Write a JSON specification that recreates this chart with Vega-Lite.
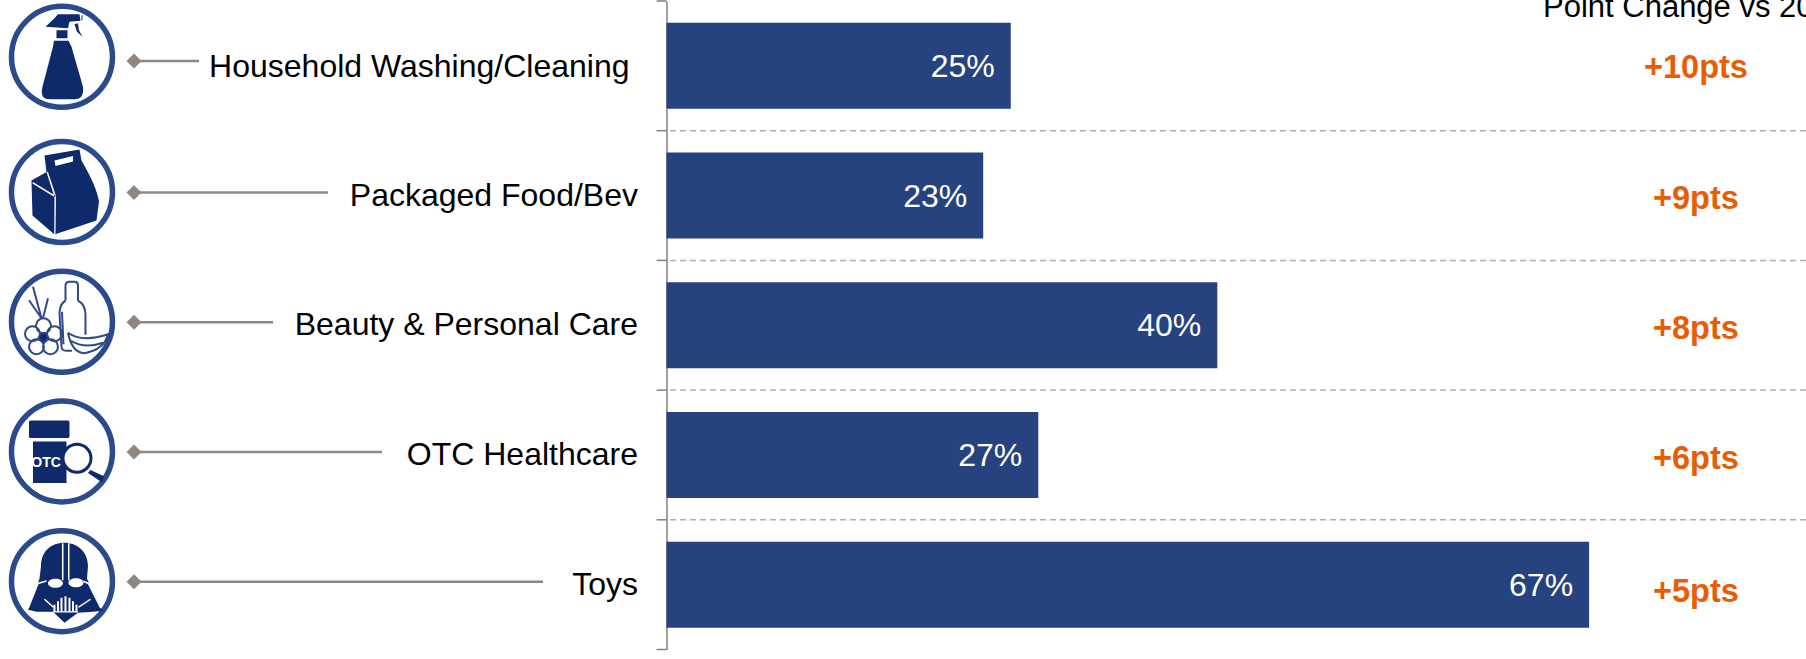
{
  "$schema": "https://vega.github.io/schema/vega-lite/v6.json",
  "width": 1139.5,
  "height": 648.5,
  "padding": {"left": 666.5, "top": 1, "right": 0, "bottom": 9.5},
  "autosize": {"type": "none"},
  "background": "white",
  "view": {"stroke": null},
  "config": {"font": "Liberation Sans"},
  "data": {
    "values": [
      {"category": "Household Washing/Cleaning", "share": 0.25, "change": "+10pts"},
      {"category": "Packaged Food/Bev", "share": 0.23, "change": "+9pts"},
      {"category": "Beauty & Personal Care", "share": 0.40, "change": "+8pts"},
      {"category": "OTC Healthcare", "share": 0.27, "change": "+6pts"},
      {"category": "Toys", "share": 0.67, "change": "+5pts"}
    ]
  },
  "encoding": {
    "y": {
      "field": "category",
      "type": "nominal",
      "sort": null,
      "title": null,
      "scale": {"paddingInner": 0.337, "paddingOuter": 0.1685},
      "axis": {
        "labels": false,
        "grid": false,
        "ticks": false,
        "domainColor": "#808080",
        "domainWidth": 1.5
      }
    }
  },
  "layer": [
    {
      "transform": [{"filter": "datum.category !== 'Toys'"}],
      "mark": {"type": "rule", "color": "#b0b0b0", "strokeWidth": 1.5, "strokeDash": [6, 4], "yOffset": {"expr": "21.85"}},
      "encoding": {
        "y": {"field": "category", "type": "nominal", "sort": null, "bandPosition": 1, "title": null}
      }
    },
    {
      "mark": {"type": "bar", "color": "#27437f"},
      "encoding": {
        "x": {
          "field": "share",
          "type": "quantitative",
          "axis": null,
          "scale": {"domain": [0, 0.8275], "nice": false, "zero": false}
        }
      }
    },
    {
      "mark": {"type": "rule", "color": "#808080", "strokeWidth": 1.5, "yOffset": {"expr": "64.85"}, "x2Offset": {"expr": "-10"}},
      "encoding": {
        "x": {"datum": 0.0001},
        "x2": {"datum": 0.0001}
      }
    },
    {
      "transform": [{"filter": "datum.category === 'Household Washing/Cleaning'"}],
      "mark": {"type": "rule", "color": "#808080", "strokeWidth": 1.5, "yOffset": {"expr": "-64.85"}, "x2Offset": {"expr": "-10"}},
      "encoding": {
        "x": {"datum": 0.0001},
        "x2": {"datum": 0.0001}
      }
    },
    {
      "mark": {"type": "text", "align": "right", "baseline": "alphabetic", "dx": -16, "yOffset": 11, "fontSize": 32, "color": "white"},
      "encoding": {
        "x": {"field": "share", "type": "quantitative"},
        "text": {"field": "share", "type": "quantitative", "format": ".0%"}
      }
    },
    {
      "mark": {
        "type": "text",
        "align": "center",
        "baseline": "alphabetic",
        "yOffset": {"expr": "{'Household Washing/Cleaning': 12, 'Packaged Food/Bev': 13, 'Beauty & Personal Care': 14, 'OTC Healthcare': 14.5, 'Toys': 17.5}[datum.category]"},
        "fontSize": 32.5,
        "fontWeight": "bold",
        "color": "#e85d04"
      },
      "encoding": {
        "x": {"datum": 0.7476},
        "text": {"field": "change"}
      }
    },
    {
      "transform": [{"filter": "datum.share === 0.25"}],
      "mark": {"type": "text", "align": "left", "baseline": "alphabetic", "yOffset": -48.85, "fontSize": 31, "color": "#000000"},
      "encoding": {
        "x": {"datum": 0.6365},
        "text": {"value": "Point Change vs 20"}
      }
    },
    {
      "mark": {
        "type": "text",
        "align": "right",
        "baseline": "alphabetic",
        "yOffset": {"expr": "datum.category === 'Household Washing/Cleaning' ? 11 : 10"},
        "fontSize": 32,
        "color": "#000000",
        "xOffset": {"expr": "datum.category === 'Household Washing/Cleaning' ? -8.5 : 0"}
      },
      "encoding": {
        "x": {"datum": -0.0207},
        "text": {"field": "category"}
      }
    },
    {
      "mark": {
        "type": "rule",
        "color": "#8f8780",
        "strokeWidth": 2.5,
        "yOffset": {"expr": "datum.category === 'Household Washing/Cleaning' ? -4.85 : -3"},
        "x2Offset": {"expr": "{'Household Washing/Cleaning': 65, 'Packaged Food/Bev': 194, 'Beauty & Personal Care': 139, 'OTC Healthcare': 248, 'Toys': 409}[datum.category]"}
      },
      "encoding": {
        "x": {"datum": -0.3867},
        "x2": {"datum": -0.3867}
      }
    },
    {
      "mark": {
        "type": "point",
        "shape": "diamond",
        "filled": true,
        "opacity": 1,
        "color": "#8f8780",
        "size": 225,
        "yOffset": {"expr": "datum.category === 'Household Washing/Cleaning' ? -4.85 : -3"}
      },
      "encoding": {"x": {"datum": -0.3867}}
    },
    {
      "mark": {
        "type": "point",
        "shape": "circle",
        "filled": false,
        "opacity": 1,
        "stroke": "#2a4a8c",
        "strokeWidth": 5.5,
        "size": 10201,
        "yOffset": {"expr": "datum.category === 'Household Washing/Cleaning' ? -9 : -3.5"}
      },
      "encoding": {"x": {"datum": -0.439}}
    },
    {
      "mark": {
        "type": "point",
        "filled": true,
        "opacity": 1,
        "fill": "#0e2a6b",
        "strokeWidth": 0,
        "size": 10000,
        "yOffset": {"expr": "datum.category === 'Household Washing/Cleaning' ? -9 : -3.5"}
      },
      "encoding": {
        "x": {"datum": -0.439},
        "shape": {
          "field": "category",
          "type": "nominal",
          "legend": null,
          "scale": {
            "domain": ["Household Washing/Cleaning", "Packaged Food/Bev", "Beauty & Personal Care", "OTC Healthcare", "Toys"],
            "range": [
              "M-.16,-.32 L.13,-.32 L.19,-.2 L.42,.6 Q.45,.85 .25,.85 L-.25,.85 Q-.45,.85 -.39,.6 L-.18,-.2 Z M-.11,-.53 H.11 V-.36 H-.11 Z M-.33,-.6 L-.15,-.77 L-.08,-.85 L.35,-.85 L.37,-.72 L.15,-.7 L.12,-.57 Z M.25,-.65 L.3,-.5 L.41,-.4 L.34,-.53 L.32,-.67 Z M.39,-.83 H.41 V-.73 H.39 Z",
              "M-.35,-.73 L.35,-.85 L.39,-.63 Q.7,-.1 .74,.2 L.69,.57 L-.15,.85 L-.59,.47 L-.61,-.23 L-.31,-.4 Z",
              "M-.47,.31 A.1,.1 0 1 0 -.27,.31 A.1,.1 0 1 0 -.47,.31 Z",
              "M-.66,-.59 Q-.66,-.62 -.62,-.62 H.12 Q.15,-.62 .15,-.59 V-.3 Q.15,-.27 .12,-.27 H-.62 Q-.66,-.27 -.66,-.3 Z M-.58,-.2 H.09 V.63 H-.58 Z M.57,.37 L.85,.5 L.79,.61 L.52,.43 Z",
              "M.05,-.77 C-.22,-.77 -.42,-.6 -.42,-.3 L-.45,-.05 L-.68,.57 L-.51,.61 L-.18,.61 L.05,.83 L.32,.63 L.62,.61 L.82,.59 L.5,-.05 L.52,-.3 C.52,-.6 .3,-.77 .05,-.77 Z"
            ]
          }
        }
      }
    },
    {
      "mark": {
        "type": "point",
        "filled": true,
        "opacity": 1,
        "fill": "#ffffff",
        "strokeWidth": 0,
        "size": 10000,
        "yOffset": {"expr": "datum.category === 'Household Washing/Cleaning' ? -9 : -3.5"}
      },
      "encoding": {
        "x": {"datum": -0.439},
        "shape": {
          "field": "category",
          "type": "nominal",
          "legend": null,
          "scale": {
            "domain": ["Household Washing/Cleaning", "Packaged Food/Bev", "Beauty & Personal Care", "OTC Healthcare", "Toys"],
            "range": [
              "M-.2,-.37 H.17 V-.35 H-.2 Z",
              "M-.15,-.63 L.22,-.72 L.22,-.61 L-.13,-.52 Z M-.58,-.2 L-.12,.08 L-.13,.85 L-.155,.85 L-.15,.1 L-.59,-.17 Z M-.31,-.4 L-.15,.1 L-.12,.08 L-.28,-.4 Z",
              "M0,0 H0 V0 Z",
              "M0,0 H0 V0 Z",
              "M-.28,.04 A.15,.09 0 1 0 .02,.04 A.15,.09 0 1 0 -.28,.04 Z M.13,.03 A.15,.09 0 1 0 .43,.03 A.15,.09 0 1 0 .13,.03 Z M.0,-.76 H.03 V-.02 H0 Z M.12,-.76 H.15 V-.02 H.12 Z M-.31,-.02 L-.5,.03 L-.7,.54 L-.66,.54 L-.47,.06 L-.31,.01 Z M.41,-.02 L.55,.03 L.8,.54 L.76,.54 L.52,.06 L.41,.01 Z M-.34,.35 L-.16,.51 L-.18,.53 L-.36,.37 Z M.56,.35 L.32,.51 L.34,.53 L.58,.37 Z M-.17,.47 H-.13 V.6 H-.17 Z M-.1,.4 H-.06 V.6 H-.1 Z M-.03,.33 H.01 V.6 H-.03 Z M.05,.3 H.09 V.6 H.05 Z M.13,.33 H.17 V.6 H.13 Z M.2,.4 H.24 V.6 H.2 Z M.27,.47 H.31 V.6 H.27 Z M-.18,.6 H.32 V.625 H-.18 Z"
            ]
          }
        }
      }
    },
    {
      "transform": [{"filter": "datum.category === 'Beauty & Personal Care'"}],
      "mark": {
        "type": "point",
        "filled": false,
        "opacity": 1,
        "stroke": "#2f4a85",
        "strokeWidth": 2,
        "size": 10000,
        "yOffset": -3.5,
        "shape": "M.07,-.42 L.07,-.72 Q.07,-.8 .15,-.8 L.25,-.8 Q.32,-.8 .32,-.72 L.32,-.42 M.07,-.42 Q-.04,-.36 -.05,-.18 L-.01,.5 Q0,.58 .08,.58 L.2,.58 M.32,-.42 Q.46,-.36 .47,-.15 L.47,.26 M0,-.2 L.03,.45 M.12,.22 Q.4,.42 .92,.25 Q.85,.55 .45,.63 Q.2,.62 .12,.22 M.18,.38 Q.45,.55 .82,.42 M-.52,.08 A.15,.15 0 1 0 -.22,.08 A.15,.15 0 1 0 -.52,.08 M-.3,.24 A.15,.15 0 1 0 0,.24 A.15,.15 0 1 0 -.3,.24 M-.38,.5 A.15,.15 0 1 0 -.08,.5 A.15,.15 0 1 0 -.38,.5 M-.66,.5 A.15,.15 0 1 0 -.36,.5 A.15,.15 0 1 0 -.66,.5 M-.74,.24 A.15,.15 0 1 0 -.44,.24 A.15,.15 0 1 0 -.74,.24 M-.58,-.7 L-.41,-.07 M-.66,-.43 L-.41,-.07 M-.28,-.47 L-.38,-.07"
      },
      "encoding": {"x": {"datum": -0.439}}
    },
    {
      "transform": [{"filter": "datum.category === 'OTC Healthcare'"}],
      "mark": {"type": "text", "align": "center", "baseline": "alphabetic", "fontSize": 14, "fontWeight": "bold", "color": "white", "yOffset": 11.7},
      "encoding": {
        "x": {"datum": -0.4505},
        "text": {"value": "OTC"}
      }
    },
    {
      "transform": [{"filter": "datum.category === 'OTC Healthcare'"}],
      "mark": {"type": "point", "shape": "circle", "filled": true, "opacity": 1, "fill": "white", "stroke": "#0e2a6b", "strokeWidth": 3, "size": 784, "yOffset": 3.3},
      "encoding": {"x": {"datum": -0.4281}}
    }
  ],
  "resolve": {"scale": {"shape": "independent"}}
}
